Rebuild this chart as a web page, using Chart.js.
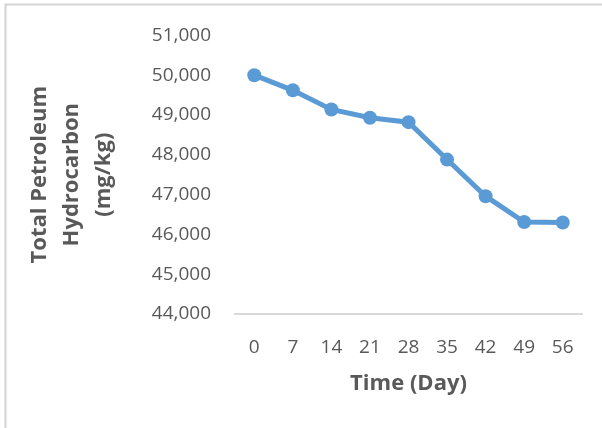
<!DOCTYPE html>
<html>
<head>
<meta charset="utf-8">
<script src="https://cdn.jsdelivr.net/npm/chart.js@4/dist/chart.umd.min.js"></script>
<style>
  html, body { margin: 0; padding: 0; background: #ffffff; }
  #wrap { width: 602px; height: 428px; }
</style>
</head>
<body>
<div id="wrap"><canvas id="c" width="602" height="428"></canvas></div>
<script>
// Sampling days and measured TPH concentration (mg/kg)
const days = ['0', '7', '14', '21', '28', '35', '42', '49', '56'];
const tph = [50000, 49620, 49140, 48930, 48820, 47880, 46960, 46310, 46300];
// Value axis range
const yMin = 44000;
const yMax = 51000;
const yStep = 1000;

const FONT = "'Open Sans', 'Liberation Sans', sans-serif";
const TEXT = '#595959';
const LINE = '#5b9bd5';
const AXIS = '#d9d9d9';

// light frame along the top and left edges of the canvas
const framePlugin = {
  id: 'frame',
  beforeDraw(chart) {
    const ctx = chart.ctx;
    ctx.save();
    ctx.fillStyle = '#ffffff';
    ctx.fillRect(0, 0, chart.width, chart.height);
    ctx.strokeStyle = '#d4d4d4';
    ctx.lineWidth = 2;
    ctx.beginPath();
    ctx.moveTo(5.5, chart.height);
    ctx.lineTo(5.5, 4.5);
    ctx.lineTo(chart.width, 4.5);
    ctx.stroke();
    ctx.restore();
  }
};

new Chart(document.getElementById('c'), {
  type: 'line',
  data: {
    labels: days,
    datasets: [{
      data: tph,
      borderColor: LINE,
      backgroundColor: LINE,
      borderWidth: 5,
      pointRadius: 7,
      pointHoverRadius: 7,
      pointBorderWidth: 0,
      pointBackgroundColor: LINE,
      tension: 0,
      fill: false
    }]
  },
  options: {
    responsive: false,
    animation: false,
    devicePixelRatio: 1,
    layout: { padding: { left: 6, top: 34, right: 20, bottom: 0 } },
    plugins: {
      legend: { display: false },
      tooltip: { enabled: false }
    },
    scales: {
      x: {
        offset: true,
        grid: { display: false, drawTicks: false },
        border: { display: true, color: AXIS, width: 2 },
        ticks: {
          color: TEXT,
          font: { family: FONT, size: 19 },
          padding: 22,
          maxRotation: 0,
          autoSkip: false
        },
        title: {
          display: true,
          text: 'Time (Day)',
          color: TEXT,
          font: { family: FONT, size: 22, weight: 'bold' },
          padding: { top: 0, bottom: 31 }
        },
        afterFit(scale) { scale.height = 114; }
      },
      y: {
        min: yMin,
        max: yMax,
        grid: { display: false, drawTicks: false },
        border: { display: false },
        ticks: {
          stepSize: yStep,
          color: TEXT,
          font: { family: FONT, size: 19 },
          padding: 24,
          callback: v => v.toLocaleString('en-US')
        },
        title: {
          display: true,
          text: ['Total Petroleum', 'Hydrocarbon', '(mg/kg)'],
          color: TEXT,
          font: { family: FONT, size: 22, weight: 'bold', lineHeight: 1.45 },
          padding: { top: 18, bottom: 0 }
        },
        afterFit(scale) { scale.width = 229; }
      }
    }
  },
  plugins: [framePlugin]
});
</script>
</body>
</html>
